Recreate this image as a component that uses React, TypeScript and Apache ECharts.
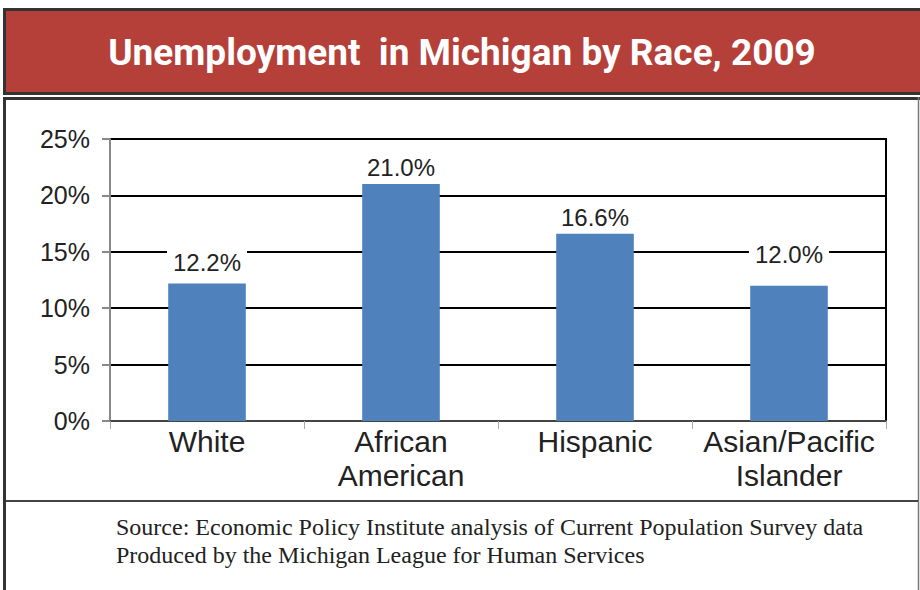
import React, { useEffect, useRef } from "react";
import * as echarts from "echarts";

const categories = ["White", "African\nAmerican", "Hispanic", "Asian/Pacific\nIslander"];
const rates = [12.2, 21.0, 16.6, 12.0];
const yTicks = [0, 5, 10, 15, 20, 25];
const titleText = "Unemployment  in Michigan by Race, 2009";
const sourceLines = [
  "Source: Economic Policy Institute analysis of Current Population Survey data",
  "Produced by the Michigan League for Human Services",
];

// label placement (styling only)
const labelGap = [8, 4, 3, 18];

export default function App() {
  const ref = useRef<HTMLDivElement>(null);
  useEffect(() => {
    document.body.style.margin = "0";
    if (!ref.current) return;
    const chart = echarts.init(ref.current, null, { renderer: "svg" });
    const font = "'Liberation Sans', Arial, sans-serif";
    chart.setOption({
      animation: false,
      backgroundColor: "#ffffff",
      graphic: [
        {
          type: "rect",
          shape: { x: 4.5, y: 9.5, width: 920, height: 84 },
          style: { fill: "#b5403a", stroke: "#333333", lineWidth: 3 },
          z: 1,
        },
        {
          type: "text",
          x: 462,
          y: 52,
          style: {
            text: titleText,
            fill: "#ffffff",
            font: "bold 37px Roboto, 'Liberation Sans', sans-serif",
            textAlign: "center",
            textVerticalAlign: "middle",
          },
          z: 2,
        },
        {
          type: "line",
          shape: { x1: 3, y1: 98.5, x2: 920, y2: 98.5 },
          style: { stroke: "#333333", lineWidth: 3 },
        },
        {
          type: "line",
          shape: { x1: 4.5, y1: 97, x2: 4.5, y2: 590 },
          style: { stroke: "#333333", lineWidth: 3 },
        },
        {
          type: "line",
          shape: { x1: 918.5, y1: 97, x2: 918.5, y2: 590 },
          style: { stroke: "#777777", lineWidth: 1.5 },
        },
        {
          type: "line",
          shape: { x1: 6, y1: 501, x2: 918, y2: 501 },
          style: { stroke: "#444444", lineWidth: 2 },
        },
        ...sourceLines.map((t, i) => ({
          type: "text",
          x: 116,
          y: 527 + i * 28,
          style: {
            text: t,
            fill: "#222222",
            font: "24px 'Liberation Serif', 'Times New Roman', serif",
            textAlign: "left",
            textVerticalAlign: "middle",
          },
        })),
      ],
      grid: {
        left: 110,
        right: 34,
        top: 139,
        bottom: 169,
        show: true,
        borderColor: "#000000",
        borderWidth: 2,
        backgroundColor: "transparent",
      },
      xAxis: {
        type: "category",
        data: categories,
        axisLine: { lineStyle: { color: "#444444", width: 2 } },
        axisTick: { show: true, length: 8, lineStyle: { color: "#aaaaaa", width: 1 } },
        axisLabel: {
          color: "#222222",
          fontFamily: font,
          fontSize: 30,
          lineHeight: 34,
          margin: 3,
          interval: 0,
        },
      },
      yAxis: {
        type: "value",
        min: 0,
        max: 25,
        interval: 5,
        axisLine: { show: true, lineStyle: { color: "#888888", width: 2 } },
        axisTick: { show: true, length: 8, lineStyle: { color: "#888888", width: 2 } },
        splitLine: { show: true, lineStyle: { color: "#000000", width: 2 } },
        axisLabel: {
          color: "#222222",
          fontFamily: font,
          fontSize: 25,
          margin: 20,
          formatter: (v: number) => (yTicks.includes(v) ? `${v}%` : ""),
        },
      },
      series: [
        {
          type: "bar",
          data: rates.map((v, i) => ({ value: v, label: { distance: labelGap[i] } })),
          barWidth: "40%",
          itemStyle: { color: "#4f81bd" },
          label: {
            show: true,
            position: "top",
            formatter: (p: any) => `${Number(p.value).toFixed(1)}%`,
            color: "#222222",
            fontFamily: font,
            fontSize: 24,
            lineHeight: 26,
            backgroundColor: "#ffffff",
            padding: [0, 6],
          },
        },
      ],
    });
    return () => chart.dispose();
  }, []);
  return <div ref={ref} style={{ width: 920, height: 590 }} />;
}
